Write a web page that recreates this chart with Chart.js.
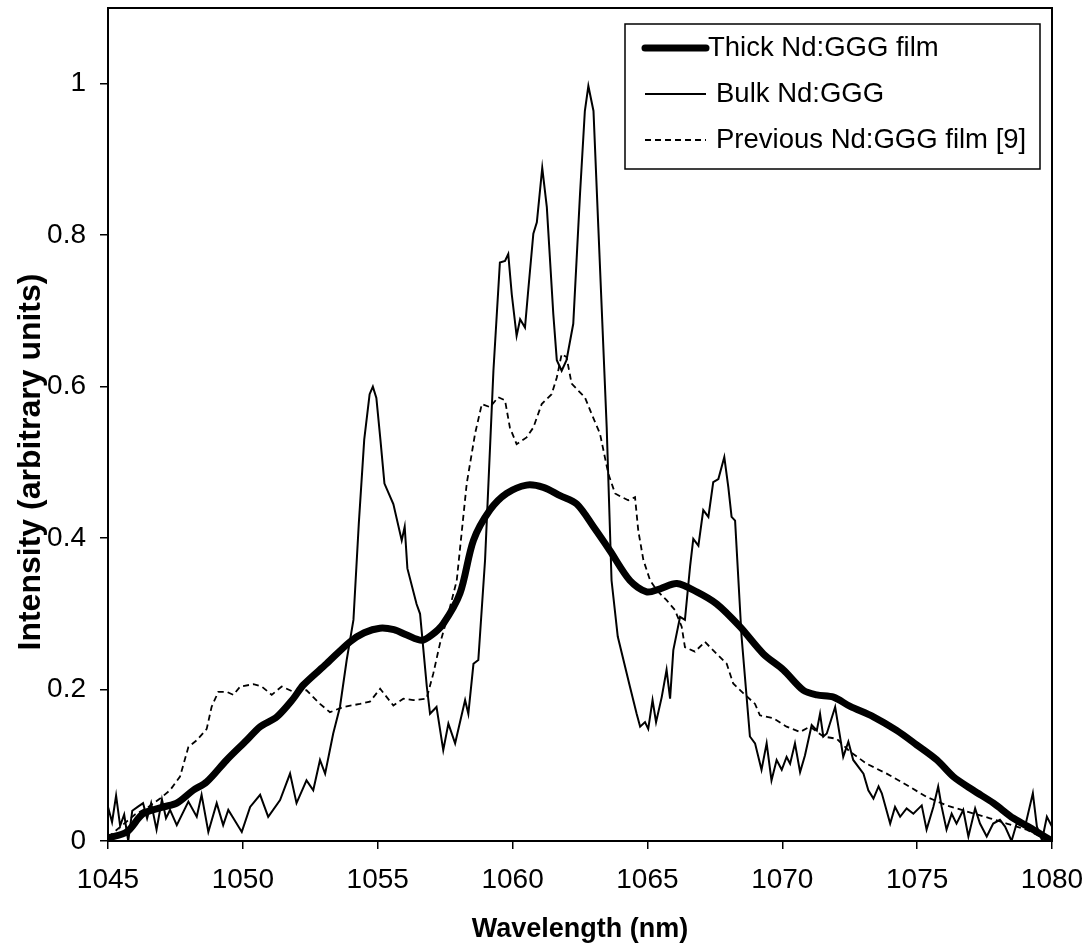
<!DOCTYPE html>
<html>
<head>
<meta charset="utf-8">
<title>Nd:GGG emission spectra</title>
<script src="https://cdn.jsdelivr.net/npm/chart.js@4/dist/chart.umd.min.js"></script>
<style>
  html, body { margin: 0; padding: 0; background: #fff; }
  #wrap { width: 1090px; height: 952px; }
</style>
</head>
<body>
<div id="wrap"><canvas id="spectrum" width="1090" height="952"></canvas></div>
<script>
// Wavelength (nm) / intensity pairs
const thickWl = [1045.0, 1045.7, 1046.3, 1047.05, 1047.55, 1048.16, 1048.66, 1049.4, 1050.14, 1050.64,
    1051.26, 1051.87, 1052.24, 1053.1, 1053.97, 1054.5, 1055.08, 1055.6, 1056.08, 1056.63,
    1057.0, 1057.43, 1058.05, 1058.55, 1059.16, 1059.78, 1060.52, 1061.14, 1061.76, 1062.38,
    1063.0, 1063.6, 1064.35, 1064.97, 1065.47, 1066.09, 1066.83, 1067.57, 1068.43, 1069.3,
    1070.04, 1070.78, 1071.28, 1071.9, 1072.5, 1073.38, 1074.24, 1074.98, 1075.73, 1076.34,
    1077.08, 1077.83, 1078.57, 1079.31, 1080];
const thickVal = [0.004, 0.012, 0.036, 0.045, 0.05, 0.067, 0.078, 0.107, 0.133, 0.151,
    0.164, 0.188, 0.206, 0.234, 0.263, 0.275, 0.281, 0.279, 0.272, 0.265,
    0.272, 0.287, 0.327, 0.397, 0.437, 0.459, 0.470, 0.467, 0.456, 0.445,
    0.415, 0.384, 0.344, 0.329, 0.333, 0.340, 0.329, 0.313, 0.283, 0.247,
    0.226, 0.199, 0.193, 0.19, 0.178, 0.164, 0.146, 0.127, 0.107, 0.085,
    0.067, 0.050, 0.030, 0.015, 0.0];

const bulkWl = [1045.0, 1045.15, 1045.3, 1045.45, 1045.6, 1045.75, 1045.9, 1046.1, 1046.3, 1046.45,
    1046.6, 1046.8, 1047.0, 1047.15, 1047.3, 1047.55, 1047.98, 1048.29, 1048.47, 1048.72,
    1049.03, 1049.27, 1049.46, 1049.65, 1049.96, 1050.27, 1050.64, 1050.94, 1051.38, 1051.75,
    1051.99, 1052.36, 1052.61, 1052.86, 1053.05, 1053.35, 1053.6, 1053.85, 1054.1, 1054.3,
    1054.5, 1054.7, 1054.82, 1054.95, 1055.1, 1055.25, 1055.58, 1055.89, 1056.0, 1056.1,
    1056.44, 1056.57, 1056.82, 1056.94, 1057.18, 1057.43, 1057.62, 1057.87, 1058.24, 1058.36,
    1058.55, 1058.73, 1058.98, 1059.29, 1059.53, 1059.72, 1059.84, 1059.97, 1060.15, 1060.28,
    1060.46, 1060.58, 1060.77, 1060.9, 1061.1, 1061.27, 1061.51, 1061.64, 1061.82, 1062.0,
    1062.25, 1062.5, 1062.68, 1062.81, 1063.0, 1063.18, 1063.49, 1063.67, 1063.9, 1064.35,
    1064.6, 1064.73, 1064.91, 1065.03, 1065.19, 1065.32, 1065.53, 1065.71, 1065.84, 1065.96,
    1066.21, 1066.39, 1066.58, 1066.7, 1066.89, 1067.07, 1067.26, 1067.44, 1067.63, 1067.85,
    1068.0, 1068.12, 1068.25, 1068.49, 1068.8, 1068.99, 1069.23, 1069.42, 1069.6, 1069.79,
    1069.98, 1070.16, 1070.29, 1070.47, 1070.66, 1070.84, 1071.09, 1071.28, 1071.4, 1071.52,
    1071.65, 1071.96, 1072.14, 1072.26, 1072.45, 1072.63, 1073.01, 1073.19, 1073.38, 1073.57,
    1073.69, 1074.0, 1074.18, 1074.37, 1074.61, 1074.86, 1075.17, 1075.35, 1075.6, 1075.78,
    1075.91, 1076.09, 1076.28, 1076.46, 1076.71, 1076.9, 1077.15, 1077.33, 1077.58, 1077.82,
    1078.07, 1078.26, 1078.5, 1078.69, 1079.0, 1079.29, 1079.44, 1079.63, 1079.81, 1080];
const bulkVal = [0.045, 0.025, 0.06, 0.02, 0.035, 0.0, 0.04, 0.045, 0.05, 0.03,
    0.05, 0.015, 0.055, 0.03, 0.041, 0.021, 0.052, 0.032, 0.061, 0.012,
    0.050, 0.021, 0.041, 0.030, 0.012, 0.045, 0.061, 0.032, 0.054, 0.089,
    0.05, 0.080, 0.067, 0.107, 0.089, 0.142, 0.177, 0.239, 0.292, 0.42,
    0.53, 0.59, 0.60, 0.585, 0.53, 0.472, 0.445, 0.397, 0.415, 0.36,
    0.313, 0.30, 0.204, 0.168, 0.177, 0.12, 0.155, 0.129, 0.186, 0.168,
    0.234, 0.239, 0.371, 0.621, 0.764, 0.766, 0.775, 0.722, 0.667, 0.689,
    0.678, 0.727, 0.802, 0.817, 0.889, 0.837, 0.696, 0.635, 0.621, 0.635,
    0.683, 0.854, 0.964, 0.997, 0.964, 0.81, 0.546, 0.344, 0.27, 0.204,
    0.168, 0.151, 0.157, 0.148, 0.186, 0.157, 0.19, 0.226, 0.188, 0.252,
    0.296, 0.292, 0.362, 0.399, 0.39, 0.437, 0.428, 0.474, 0.478, 0.507,
    0.467, 0.428, 0.423, 0.27, 0.138, 0.129, 0.094, 0.129, 0.080, 0.107,
    0.094, 0.111, 0.102, 0.129, 0.091, 0.113, 0.153, 0.146, 0.168, 0.138,
    0.142, 0.177, 0.138, 0.111, 0.131, 0.107, 0.089, 0.067, 0.056, 0.072,
    0.063, 0.023, 0.045, 0.032, 0.043, 0.036, 0.047, 0.015, 0.045, 0.072,
    0.045, 0.015, 0.036, 0.023, 0.041, 0.006, 0.043, 0.023, 0.006, 0.023,
    0.028, 0.019, 0.0, 0.023, 0.019, 0.063, 0.019, 0.001, 0.032, 0.019];

const prevWl = [1045.0, 1045.5, 1046.0, 1046.5, 1046.93, 1047.3, 1047.67, 1047.98, 1048.29, 1048.66,
    1048.84, 1049.09, 1049.4, 1049.65, 1049.9, 1050.39, 1050.7, 1051.07, 1051.44, 1051.87,
    1052.36, 1052.86, 1053.23, 1053.72, 1054.34, 1054.71, 1055.09, 1055.58, 1055.95, 1056.32,
    1056.81, 1057.06, 1057.31, 1057.56, 1057.93, 1058.3, 1058.61, 1058.86, 1059.16, 1059.47,
    1059.72, 1059.9, 1060.15, 1060.52, 1060.77, 1061.08, 1061.45, 1061.64, 1061.82, 1062.0,
    1062.19, 1062.43, 1062.68, 1062.93, 1063.24, 1063.55, 1063.8, 1064.05, 1064.29, 1064.54,
    1064.66, 1064.85, 1065.1, 1065.35, 1065.71, 1066.02, 1066.27, 1066.39, 1066.76, 1067.13,
    1067.57, 1067.94, 1068.18, 1068.56, 1068.99, 1069.17, 1069.67, 1070.16, 1070.66, 1071.03,
    1071.52, 1072.02, 1072.51, 1073.13, 1073.87, 1074.61, 1075.36, 1076.1, 1076.84, 1077.7,
    1078.32, 1079.06, 1079.9];
const prevVal = [0.005, 0.02, 0.035, 0.045, 0.056, 0.067, 0.085, 0.124, 0.133, 0.148,
    0.177, 0.197, 0.197, 0.193, 0.204, 0.207, 0.204, 0.193, 0.204, 0.197,
    0.199, 0.181, 0.170, 0.177, 0.181, 0.184, 0.201, 0.179, 0.188, 0.186,
    0.188, 0.221, 0.261, 0.292, 0.344, 0.472, 0.538, 0.577, 0.573, 0.586,
    0.582, 0.546, 0.524, 0.533, 0.546, 0.577, 0.59, 0.612, 0.643, 0.639,
    0.604, 0.595, 0.586, 0.564, 0.538, 0.485, 0.459, 0.454, 0.45, 0.454,
    0.41, 0.371, 0.344, 0.331, 0.318, 0.305, 0.283, 0.256, 0.25, 0.263,
    0.247, 0.234, 0.208, 0.195, 0.181, 0.166, 0.162, 0.151, 0.144, 0.151,
    0.138, 0.135, 0.118, 0.102, 0.089, 0.074, 0.058, 0.047, 0.039, 0.030,
    0.023, 0.015, 0.0];

const seriesNames = ['Thick Nd:GGG film', 'Bulk Nd:GGG', 'Previous Nd:GGG film [9]'];
const xTicks = [1045, 1050, 1055, 1060, 1065, 1070, 1075, 1080];
const yTicks = [0, 0.2, 0.4, 0.6, 0.8, 1];

function toPoints(xs, ys) {
    return xs.map((x, i) => ({ x: x, y: ys[i] }));
}

const FONT = 'Liberation Sans, Arial, sans-serif';

// box round the plot area
const framePlugin = {
    id: 'frame',
    afterDatasetsDraw(chart) {
        const a = chart.chartArea;
        const ctx = chart.ctx;
        ctx.save();
        ctx.strokeStyle = '#000';
        ctx.lineWidth = 2;
        ctx.strokeRect(a.left, a.top, a.right - a.left, a.bottom - a.top);
        ctx.restore();
    }
};

// y axis title: in the original it is bigger and sits a bit below the middle
const yTitlePlugin = {
    id: 'yTitle',
    afterDraw(chart) {
        const ctx = chart.ctx;
        ctx.save();
        ctx.translate(31, 462);
        ctx.rotate(-Math.PI / 2);
        ctx.font = 'bold 32px ' + FONT;
        ctx.fillStyle = '#000';
        ctx.textAlign = 'center';
        ctx.textBaseline = 'middle';
        ctx.fillText('Intensity (arbitrary units)', 0, 0);
        ctx.restore();
    }
};

// legend box in the top right corner, like the original
const boxLegend = {
    id: 'boxLegend',
    afterDraw(chart) {
        const ctx = chart.ctx;
        const left = 625, top = 24, right = 1040, bottom = 169;
        ctx.save();
        ctx.fillStyle = '#fff';
        ctx.fillRect(left, top, right - left, bottom - top);
        ctx.strokeStyle = '#000';
        ctx.lineWidth = 1.5;
        ctx.strokeRect(left, top, right - left, bottom - top);
        ctx.font = '27.5px ' + FONT;
        ctx.textBaseline = 'middle';
        chart.data.datasets.forEach((ds, i) => {
            const y = 48 + i * 46;
            ctx.beginPath();
            ctx.strokeStyle = ds.borderColor;
            ctx.lineWidth = ds.borderWidth;
            ctx.lineCap = i === 0 ? 'round' : 'butt';
            ctx.setLineDash(ds.borderDash || []);
            ctx.moveTo(645, y);
            ctx.lineTo(706, y);
            ctx.stroke();
            ctx.setLineDash([]);
            ctx.fillStyle = '#000';
            ctx.fillText(ds.label, i === 0 ? 708 : 716, y);
        });
        ctx.restore();
    }
};

document.addEventListener('DOMContentLoaded', function() {
    const ctx = document.getElementById('spectrum').getContext('2d');
    new Chart(ctx, {
        type: 'line',
        data: {
            datasets: [{
                label: seriesNames[0],
                data: toPoints(thickWl, thickVal),
                borderColor: '#000',
                borderWidth: 7,
                tension: 0.3,
                pointRadius: 0
            }, {
                label: seriesNames[1],
                data: toPoints(bulkWl, bulkVal),
                borderColor: '#000',
                borderWidth: 2,
                tension: 0,
                pointRadius: 0
            }, {
                label: seriesNames[2],
                data: toPoints(prevWl, prevVal),
                borderColor: '#000',
                borderWidth: 1.8,
                borderDash: [6, 4],
                tension: 0,
                pointRadius: 0
            }]
        },
        options: {
            responsive: false,
            animation: false,
            layout: { padding: { top: 8, right: 38, left: 0, bottom: 0 } },
            plugins: {
                legend: { display: false },
                tooltip: { enabled: false }
            },
            scales: {
                x: {
                    type: 'linear',
                    min: 1045,
                    max: 1080,
                    afterBuildTicks: scale => { scale.ticks = xTicks.map(v => ({ value: v })); },
                    afterFit: scale => {
                        scale.height = 111;
                        scale.paddingLeft = 0;
                        scale.paddingRight = 0;
                    },
                    grid: { drawOnChartArea: false, drawTicks: true, tickLength: 8, color: '#000', lineWidth: 1.5 },
                    border: { display: true, color: '#000', width: 2 },
                    ticks: {
                        color: '#000',
                        maxRotation: 0,
                        padding: 14,
                        font: { family: FONT, size: 28 },
                        callback: v => String(v)
                    },
                    title: {
                        display: true,
                        text: 'Wavelength (nm)',
                        color: '#000',
                        padding: { top: 0, bottom: 6 },
                        font: { family: FONT, size: 27, weight: 'bold' }
                    }
                },
                y: {
                    min: 0,
                    max: 1.1,
                    afterBuildTicks: scale => { scale.ticks = yTicks.map(v => ({ value: v })); },
                    afterFit: scale => {
                        scale.width = 108;
                        scale.paddingTop = 0;
                        scale.paddingBottom = 0;
                    },
                    grid: { drawOnChartArea: false, drawTicks: true, tickLength: 8, color: '#000', lineWidth: 1.5 },
                    border: { display: true, color: '#000', width: 2 },
                    ticks: {
                        color: '#000',
                        padding: 14,
                        font: { family: FONT, size: 28 },
                        callback: v => String(+v.toFixed(1))
                    },
                    title: { display: false }
                }
            }
        },
        plugins: [framePlugin, yTitlePlugin, boxLegend]
    });
});
</script>
</body>
</html>
